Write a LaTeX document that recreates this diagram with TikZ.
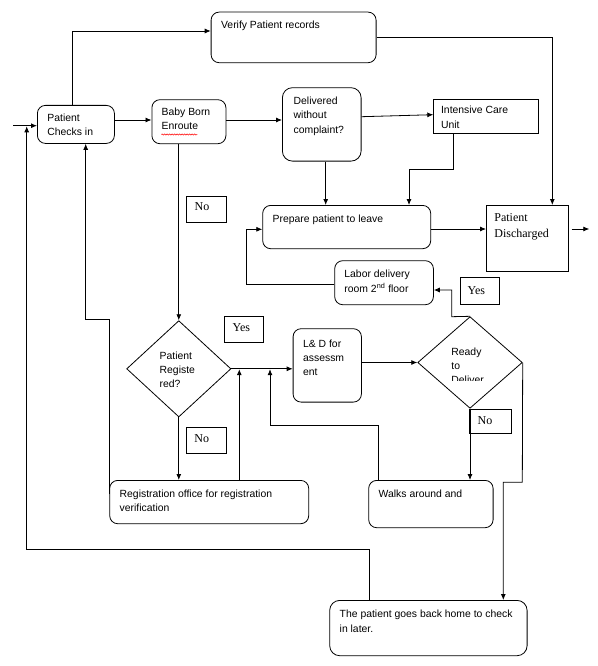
\documentclass[tikz,border=0pt]{standalone}
\usepackage{fontspec}
\newfontfamily\arialf{Liberation Sans}
\newfontfamily\timesf{Liberation Serif}
\usetikzlibrary{arrows.meta,shapes.geometric,decorations.pathmorphing}
\begin{document}
\begin{tikzpicture}[x=1pt,y=-1pt,line width=0.8pt,
  box/.style={draw, rounded corners=8pt, inner sep=0pt, anchor=north west},
  sqbox/.style={draw, inner sep=0pt, anchor=north west},
  dia/.style={draw, diamond, inner sep=0pt},
  txt/.style={inner sep=0pt, anchor=north west, align=left, font=\arialf\fontsize{10.4}{14.3}\selectfont},
  stxt/.style={inner sep=0pt, anchor=north west, align=left, font=\timesf\fontsize{12}{16}\selectfont},
  arr/.style={-{Latex[length=6pt,width=5pt]}}
]
\useasboundingbox[fill=white] (0,0) rectangle (597,666);

% boxes
\node[box, minimum width=77pt, minimum height=38pt] (checkin) at (37,105) {};
\node[txt] (checkinT) at (47,113.5) {Patient\\Checks in};
\node[box, minimum width=74pt, minimum height=44pt] (baby) at (151.5,99.3) {};
\node[txt] (babyT) at (161.3,107.5) {Baby Born\\Enroute};
\node[box, minimum width=165pt, minimum height=50.6pt] (verify) at (210.7,11.7) {};
\node[txt] (verifyT) at (220.7,20.7) {Verify Patient records};
\node[box, rounded corners=10pt, minimum width=78.7pt, minimum height=73.4pt] (deliv) at (282,87.3) {};
\node[txt] (delivT) at (293.3,96.5) {Delivered\\without\\complaint?};
\node[sqbox, minimum width=104.4pt, minimum height=34.3pt] (icu) at (433.3,99) {};
\node[txt] (icuT) at (440.7,106) {Intensive Care\\Unit};
\node[box, minimum width=168pt, minimum height=43.3pt] (prep) at (262.3,205) {};
\node[txt] (prepT) at (272.3,215) {Prepare patient to leave};
\node[sqbox, minimum width=81.7pt, minimum height=66pt] (disch) at (486,205) {};
\node[stxt] (dischT) at (494,212.7) {Patient\\Discharged};
\node[box, minimum width=98.7pt, minimum height=44pt] (labor) at (334.3,260.3) {};
\node[txt] (laborT) at (344,270) {Labor delivery\\room 2\textsuperscript{nd} floor};
\node[sqbox, minimum width=39.6pt, minimum height=26.7pt] (yesA) at (459.7,277.3) {};
\node[stxt] (yesAT) at (467.3,286) {Yes};
\node[sqbox, minimum width=39.7pt, minimum height=26.3pt] (noA) at (186,196) {};
\node[stxt] (noAT) at (194.3,202.7) {No};
\node[sqbox, minimum width=39pt, minimum height=26.3pt] (yesB) at (224.3,316) {};
\node[stxt] (yesBT) at (232.3,323.3) {Yes};
\node[dia, minimum width=104.3pt, minimum height=96.3pt] (patreg) at (178.8,368.8) {};
\node[txt, font=\arialf\fontsize{10.4}{13.8}\selectfont] (patregT) at (159.3,351.7) {Patient\\Registe\\red?};
\node[box, minimum width=68.3pt, minimum height=73.4pt] (ld) at (292.7,328.3) {};
\node[txt, font=\arialf\fontsize{10.4}{13.8}\selectfont] (ldT) at (302.7,340) {L\& D for\\assessm\\ent};
\node[dia, minimum width=104.6pt, minimum height=91.6pt] (ready) at (470,362.5) {};
\begin{scope}
\clip (440,340) rectangle (505,380);
\node[txt, font=\arialf\fontsize{10.4}{14}\selectfont] (readyT) at (451,347.3) {Ready\\to\\Deliver};
\end{scope}
\node[sqbox, minimum width=41.4pt, minimum height=24pt] (noB) at (469.3,409.3) {};
\node[stxt] (noBT) at (477.3,416.7) {No};
\node[sqbox, minimum width=39.7pt, minimum height=26pt] (noC) at (186,427.3) {};
\node[stxt] (noCT) at (194,434.3) {No};
\node[box, minimum width=199pt, minimum height=43.3pt] (reg) at (109.3,480) {};
\node[txt] (regT) at (119.3,489.3) {Registration office for registration\\verification};
\node[box, minimum width=124.4pt, minimum height=47.3pt] (walks) at (368.3,480) {};
\node[txt] (walksT) at (378.3,490) {Walks around and};
\node[box, rounded corners=10pt, minimum width=197.4pt, minimum height=55.3pt] (home) at (329.3,600) {};
\node[txt] (homeT) at (339.3,610) {The patient goes back home to check\\in later.};

% spell-check underline
\draw[red, line width=0.5pt, decorate, decoration={snake, amplitude=0.6pt, segment length=2.5pt}] (161.3,134.5) -- (197.3,134.5);

% connectors
\coordinate (in0) at (13,125.7);
\coordinate (o1) at (571.7,229);
\coordinate (o2) at (589.3,229);
\draw[arr] (in0) -- (checkin.west |- in0);
\draw[arr] (checkin.east |- 0,120) -- (baby.west |- 0,120);
\draw[arr] (checkin.north -| 72.3,0) -- (72.3,31) -- (verify.west |- 0,31);
\draw[arr] (verify.east |- 0,37.3) -| (disch.north -| 552.3,0);
\draw[arr] (baby.east |- 0,120) -- (deliv.west |- 0,120);
\draw[arr] (deliv.east |- 0,116.7) -- (icu.west |- 0,114.7);
\draw[arr] (deliv.south -| 325.7,0) -- (prep.north -| 325.7,0);
\draw[arr] (icu.south -| 453.3,0) |- (409,169) -- (prep.north -| 409,0);
\draw[arr] (prep.east |- 0,229) -- (disch.west |- 0,229);
\draw[arr] (o1) -- (o2);
\draw[arr] (labor.west |- 0,284.3) -| (246.7,229.3) -- (prep.west |- 0,229.3);
\draw[arr] (ready.north) -- (451.7,316.7) |- (labor.east |- 0,290);
\draw[arr] (baby.south -| patreg.north) -- (patreg.north);
\draw[arr] (patreg.south) -- (reg.north -| patreg.south);
\draw[arr] (patreg.east) -- (ld.west |- patreg.east);
\draw[arr] (reg.north -| 239.3,0) -- (239.3,369.2);
\draw[arr] (walks.north -| 378,0) |- (270,425.7) -- (270,369.2);
\draw[arr] (reg.west |- 0,494) -- (109.3,319) -| (checkin.south -| 85.7,0);
\draw[arr] (home.north -| 369,0) -- (369,549) -| (26.7,126.3);
\draw[arr] (ready.east) -- (522.3,482.3) -| (home.north -| 503.3,0);
\draw[arr] (ready.south) -- (walks.north -| ready.south);
\draw[arr] (ld.east |- ready.west) -- (ready.west);
\end{tikzpicture}
\end{document}
